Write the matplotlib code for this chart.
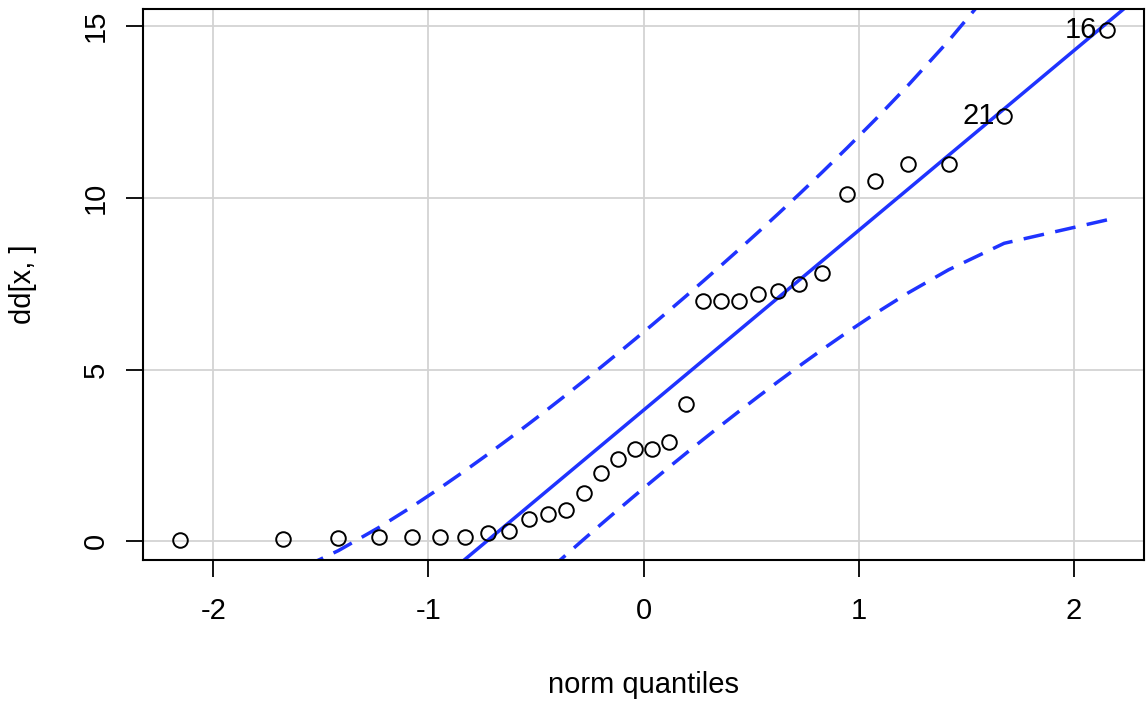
import matplotlib
matplotlib.use("Agg")
import matplotlib.pyplot as plt
import numpy as np
from statistics import NormalDist

# sorted sample values
dd_x = [0.05, 0.08, 0.10, 0.13, 0.13, 0.13, 0.13, 0.25, 0.30, 0.65, 0.80, 0.90,
        1.40, 2.00, 2.40, 2.70, 2.70, 2.90, 4.00, 7.00, 7.00, 7.00, 7.20, 7.30,
        7.50, 7.80, 10.10, 10.50, 11.00, 11.00, 12.40, 14.90]
# row ids of the two largest values
point_ids = ["21", "16"]
x_ticks = [-2, -1, 0, 1, 2]
y_ticks = [0, 5, 10, 15]

plt.rcParams['font.family'] = ['Liberation Sans', 'DejaVu Sans']
blue = '#1f33ff'

# normal quantiles like R's ppoints / qnorm
ys = np.array(dd_x)
n = len(ys)
P = (np.arange(1, n + 1) - 0.5) / n
nd = NormalDist()
z = np.array([nd.inv_cdf(p) for p in P])

# reference line through the quartiles
qx = np.quantile(ys, [0.25, 0.75])
qz = np.array([nd.inv_cdf(0.25), nd.inv_cdf(0.75)])
b = (qx[1] - qx[0]) / (qz[1] - qz[0])
a = qx[0] - b * qz[0]

# pointwise 95% envelope
zz = nd.inv_cdf(0.975)
dens = np.exp(-z ** 2 / 2) / np.sqrt(2 * np.pi)
SE = (b / dens) * np.sqrt(P * (1 - P) / n)
fit = a + b * z
upper = fit + zz * SE
lower = fit - zz * SE

fig = plt.figure(figsize=(11.46, 7.02), dpi=100)
ax = fig.add_axes([0.1248, 0.2023, 0.8735, 0.7845])

xr = z.max() - z.min()
yr = ys.max() - ys.min()
ax.set_xlim(z.min() - 0.04 * xr, z.max() + 0.04 * xr)
ax.set_ylim(ys.min() - 0.04 * yr, ys.max() + 0.04 * yr)

# grid
for t in x_ticks:
    ax.axvline(t, color='#d3d3d3', lw=1.3, zorder=0)
for t in y_ticks:
    ax.axhline(t, color='#d3d3d3', lw=1.3, zorder=0)

ax.axline((0, a), slope=b, color=blue, lw=2.5, zorder=2)
ax.plot(z, upper, color=blue, lw=2.5, dashes=(6, 3.3), zorder=2)
ax.plot(z, lower, color=blue, lw=2.5, dashes=(6, 3.3), zorder=2)

ax.plot(z, ys, 'o', mfc='none', mec='black', mew=1.4, ms=10.5, zorder=3)

# label the extreme points to their left
for i, lab in zip([n - 2, n - 1], point_ids):
    ax.annotate(lab, (z[i], ys[i]), xytext=(-7, 0), textcoords='offset points',
                ha='right', va='center', fontsize=21)

ax.set_xticks(x_ticks)
ax.set_yticks(y_ticks)
ax.set_xticklabels([str(t) for t in x_ticks])
ax.set_yticklabels([str(t) for t in y_ticks], rotation=90, va='center')
ax.tick_params(direction='out', length=12, width=1.3, labelsize=21)
ax.tick_params(axis='x', pad=15)
ax.tick_params(axis='y', pad=12)
for s in ax.spines.values():
    s.set_linewidth(1.5)

ax.set_xlabel("norm quantiles", fontsize=21, labelpad=33)
ax.set_ylabel("dd[x, ]", fontsize=21, labelpad=32)

fig.savefig("out.png", dpi=100)
